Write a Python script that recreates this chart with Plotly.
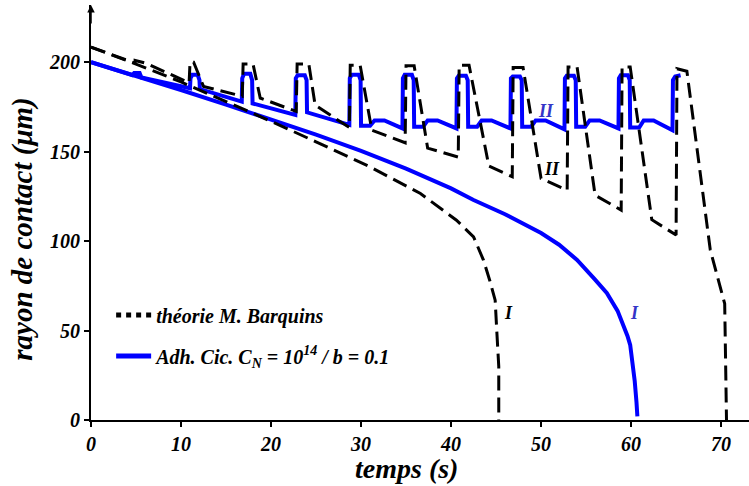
import plotly.graph_objects as go

# ---------------- data ----------------
# Curve I, theory (black dashed)
theo_I_t = [0, 5, 10, 15, 20, 25, 31, 36.6, 40.6, 42.5, 43.6, 44.3, 44.9, 45.1, 45.3, 45.3]
theo_I_r = [208.5, 199, 189, 178, 167, 155.5, 141.5, 126.6, 111.7, 102.4, 89.4, 78, 67, 48, 30, 0]

# Curve II, theory (black dashed, cyclic)
theo_II_t = [0, 4.9, 4.9, 6.1, 10.9, 11.0, 11.4, 12.5, 16.8, 16.9, 18.0, 18.8, 22.8, 22.9, 24.2, 24.9,
             28.7, 28.8, 29.9, 31.2, 34.9, 35.0, 35.9, 37.4, 40.8, 40.9, 42.0, 44.2, 46.8, 46.9, 48.0,
             50.0, 52.9, 53.0, 54.0, 56.0, 58.9, 59.0, 59.9, 62.3, 65.0, 65.1, 66.2, 68.8, 70.4, 70.6]
theo_II_r = [208.5, 199.5, 201, 199.5, 188.5, 200, 200, 186.5, 181, 199, 199, 180, 172.5, 199, 199, 176,
             163.5, 198.3, 198.3, 162, 155, 198, 198, 152, 147, 198.3, 198.3, 142, 136, 197, 197,
             135, 128.5, 197.4, 197.4, 125.7, 117.3, 197.4, 197.4, 112, 103.4, 196.4, 195, 95, 65, 0]

# Curve I, simulation (blue)
sim_I_t = [0, 5, 10, 15, 20, 25, 30, 35, 40, 42.5, 46, 48, 50, 52, 54, 56, 57.3, 58.5, 59.1,
           59.6, 59.9, 60.2, 60.4, 60.6, 60.7]
sim_I_r = [200, 192.3, 184.5, 176.3, 168, 159.5, 150.5, 140.5, 129.5, 123, 115, 110, 104.5, 98, 89.5,
           78.5, 71, 61, 54, 47, 42, 32, 22, 10, 2]

# Curve II, simulation (blue, cyclic)
sim_II_t = [0, 4.6, 4.8, 5.4, 5.6, 11.0,
            11.05, 11.25, 11.85, 12.05, 12.1, 16.75,
            16.8, 17.0, 17.7, 17.9, 17.95, 22.7,
            22.75, 22.95, 23.75, 23.95, 24.0, 28.7,
            28.75, 28.95, 29.75, 29.95, 30.0, 31.0, 31.5, 32.6, 34.6,
            34.65, 34.85, 35.65, 35.85, 35.9, 36.9, 37.4, 38.5, 40.6,
            40.65, 40.85, 41.65, 41.85, 41.9, 42.9, 43.4, 44.5, 46.6,
            46.65, 46.85, 47.65, 47.85, 47.9, 48.9, 49.4, 50.5, 52.6,
            52.65, 52.85, 53.65, 53.85, 53.9, 54.9, 55.4, 56.5, 58.6,
            58.65, 58.85, 59.65, 59.85, 59.9, 60.9, 61.4, 62.5, 64.6,
            64.65, 64.9, 65.5]
sim_II_r = [200, 192.8, 194, 194, 191.5, 185.5,
            191, 193, 193, 190, 185, 178,
            191, 193.5, 193.5, 190, 177, 170.5,
            191, 192.7, 192.7, 190, 172, 165,
            191, 193, 193, 190, 164.5, 164.5, 167.5, 167.5, 163,
            191, 193, 193, 190, 164, 164, 167.5, 167.5, 163,
            191, 192.5, 192.5, 190, 164, 164, 167.5, 167.5, 163,
            191, 192, 192, 190, 164, 164, 167.5, 167.5, 162.5,
            191, 192.5, 192.5, 190, 164, 164, 167.5, 167.5, 163,
            191, 192.7, 192.7, 190, 163.5, 163.5, 167.5, 167.5, 162,
            190, 192, 192.7]

x_ticks = [0, 10, 20, 30, 40, 50, 60, 70]
y_ticks = [0, 50, 100, 150, 200]

legend_names = ["théorie M. Barquins", "Adh. Cic. C<sub>N</sub> = 10<sup>14</sup> / b = 0.1"]

# ---------------- styles ----------------
FONT = "Liberation Serif, Times New Roman, serif"
BLUE = "#0000ff"
BLUE_LBL = "#3535c8"
DASH = "15px,7px"

fig = go.Figure()

fig.add_trace(go.Scatter(x=sim_I_t, y=sim_I_r, mode="lines",
                         line=dict(color=BLUE, width=4), showlegend=False))
fig.add_trace(go.Scatter(x=sim_II_t, y=sim_II_r, mode="lines",
                         line=dict(color=BLUE, width=4), showlegend=False))
fig.add_trace(go.Scatter(x=theo_I_t, y=theo_I_r, mode="lines",
                         line=dict(color="black", width=3, dash=DASH), showlegend=False))
fig.add_trace(go.Scatter(x=theo_II_t, y=theo_II_r, mode="lines",
                         line=dict(color="black", width=3, dash=DASH), showlegend=False))

# legend-only entries
fig.add_trace(go.Scatter(x=[None], y=[None], mode="lines", name=legend_names[0],
                         line=dict(color="black", width=5, dash="dot"), legendgroup="a"))
fig.add_trace(go.Scatter(x=[None], y=[None], mode="lines", name=legend_names[1],
                         line=dict(color=BLUE, width=5), legendgroup="b"))

axis_font = dict(family=FONT, size=20, color="black", weight="bold", style="italic")

fig.update_xaxes(range=[0, 73.1], tickvals=x_ticks, ticks="outside", ticklen=5, tickwidth=2,
                 tickcolor="black", showline=True, linewidth=2, linecolor="black",
                 showgrid=False, zeroline=False, tickfont=axis_font)
fig.update_yaxes(range=[0, 232], tickvals=y_ticks, ticks="outside", ticklen=5, tickwidth=2,
                 tickcolor="black", showline=True, linewidth=2, linecolor="black",
                 showgrid=False, zeroline=False, tickfont=axis_font)

lbl = dict(family=FONT, size=18, weight="bold", style="italic")
annos = [
    dict(x=50.6, y=173, text="II", font=dict(lbl, color=BLUE_LBL)),
    dict(x=51.2, y=140.6, text="II", font=dict(lbl, color="black")),
    dict(x=46.4, y=59.6, text="I", font=dict(lbl, color="black")),
    dict(x=60.4, y=59.6, text="I", font=dict(lbl, color=BLUE_LBL)),
]
for a in annos:
    fig.add_annotation(xref="x", yref="y", showarrow=False, **a)

# axis titles
title_font = dict(family=FONT, size=28, color="black", weight="bold", style="italic")
fig.add_annotation(xref="paper", yref="paper", x=0.48, y=-0.116, text="temps (s)",
                   showarrow=False, font=title_font, xanchor="center", yanchor="middle")
fig.add_annotation(xref="paper", yref="paper", x=-0.104, y=0.46, text="rayon de contact (μm)",
                   textangle=-90, showarrow=False, font=dict(title_font, size=29),
                   xanchor="center", yanchor="middle")

# arrow head on the y axis
fig.add_annotation(xref="x", yref="paper", x=0, y=1.0, ax=0, ay=20, text="",
                   showarrow=True, arrowhead=2, arrowsize=1, arrowwidth=1.5, arrowcolor="black")

fig.update_layout(
    width=749, height=486,
    margin=dict(l=91, r=0, t=5, b=66),
    paper_bgcolor="white", plot_bgcolor="white",
    legend=dict(x=0.0306, y=0.30, xanchor="left", yanchor="top", bgcolor="rgba(255,255,255,0)",
                font=dict(family=FONT, size=20, color="black", weight="bold", style="italic"),
                traceorder="grouped", tracegroupgap=12, itemwidth=35),
)

fig.write_html("out.html", config={"displayModeBar": False},
               post_script="document.body.style.margin='0px';document.body.style.overflow='hidden';")
